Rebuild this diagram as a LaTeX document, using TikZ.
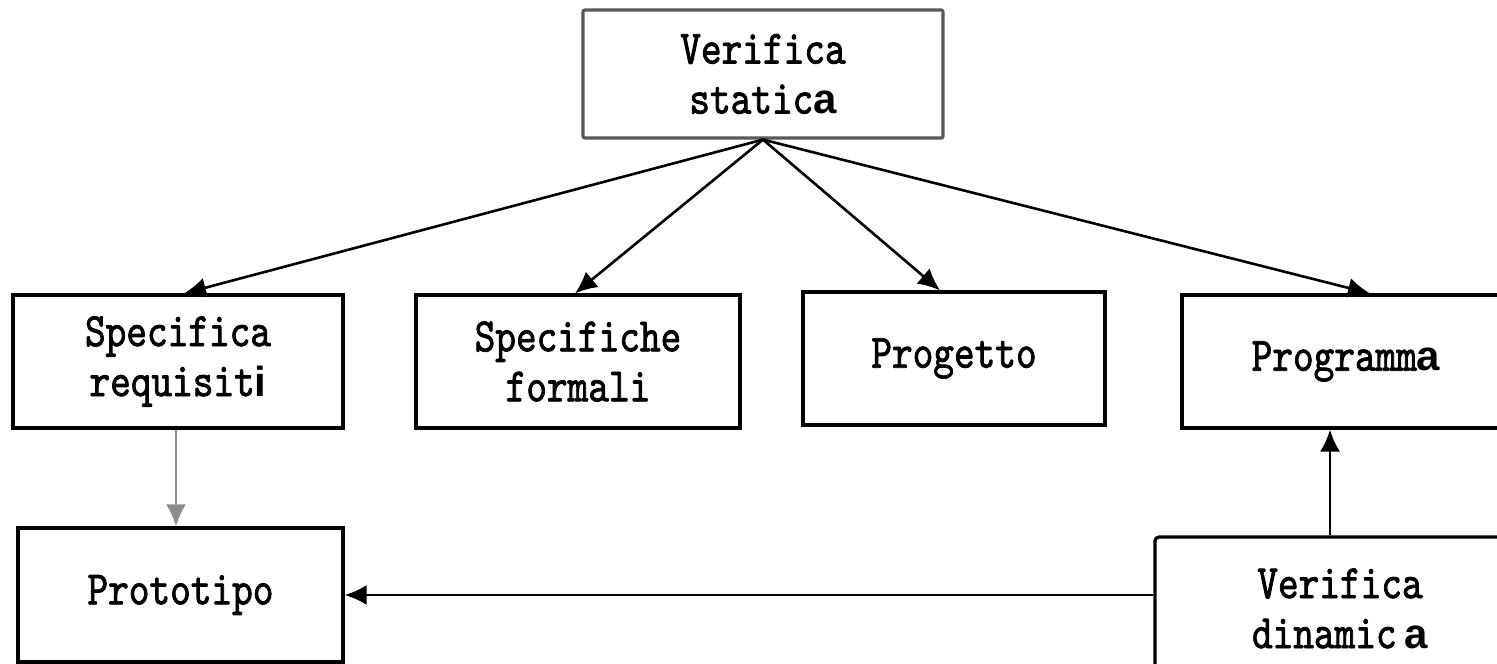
\documentclass[tikz,border=0pt]{standalone}
\usepackage{fontspec}
\usetikzlibrary{arrows.meta}
\newfontfamily\boxfont[FakeStretch=0.82,FakeBold=1.6]{lmmono10-regular.otf}
\newfontfamily\endfont{Liberation Sans}
\newcommand{\lastch}[1]{{\endfont\bfseries\fontsize{21}{25}\selectfont #1}}
\begin{document}
\begin{tikzpicture}[x=0.5pt,y=-0.5pt,
  box/.style={draw=black,line width=1.6pt,inner sep=0pt,align=center,
    font=\boxfont\fontsize{24}{25}\selectfont},
  arr/.style={line width=1.3pt,-{Latex[length=11pt,width=10pt]}}]
\useasboundingbox (0,0) rectangle (1497,663);
\node[box,draw=black!65,rounded corners=1pt,minimum width=180pt,minimum height=64pt] (VS) at (763,74) {Verifica\\static\lastch{a}};
\node[box,minimum width=165pt,minimum height=66.5pt] (SR) at (178,361.5) {Specifica\\requisit\lastch{i}};
\node[box,minimum width=162pt,minimum height=66.5pt] (SF) at (578,361.5) {Specifiche\\formali};
\node[box,minimum width=151pt,minimum height=66.5pt] (PG) at (954,358.5) {Progetto};
\node[box,minimum width=164pt,minimum height=66.5pt] (PR) at (1346,361.5) {Programm\lastch{a}};
\node[box,minimum width=162.5pt,minimum height=67pt] (PT) at (180.5,595) {Prototipo};
\node[box,rounded corners=2pt,minimum width=185pt,minimum height=71.5pt] (VD) at (1340,608.5) {Verifica\\dinamic\,\lastch{a}};
\draw[arr] (VS.south) -- ([xshift=3pt]SR.north);
\draw[arr] (VS.south) -- ([xshift=-1.5pt]SF.north);
\draw[arr] (VS.south) -- ([xshift=-7pt]PG.north);
\draw[arr] (VS.south) -- ([xshift=12pt]PR.north);
\draw[arr,black!45] ([xshift=-1pt]SR.south) -- ([xshift=-1pt]SR.south |- PT.north);
\draw[arr] ([xshift=-5pt]VD.north) -- ([xshift=-5pt]VD.north |- PR.south);
\draw[arr] (VD.west |- PT.east) -- (PT.east);
\end{tikzpicture}
\end{document}
